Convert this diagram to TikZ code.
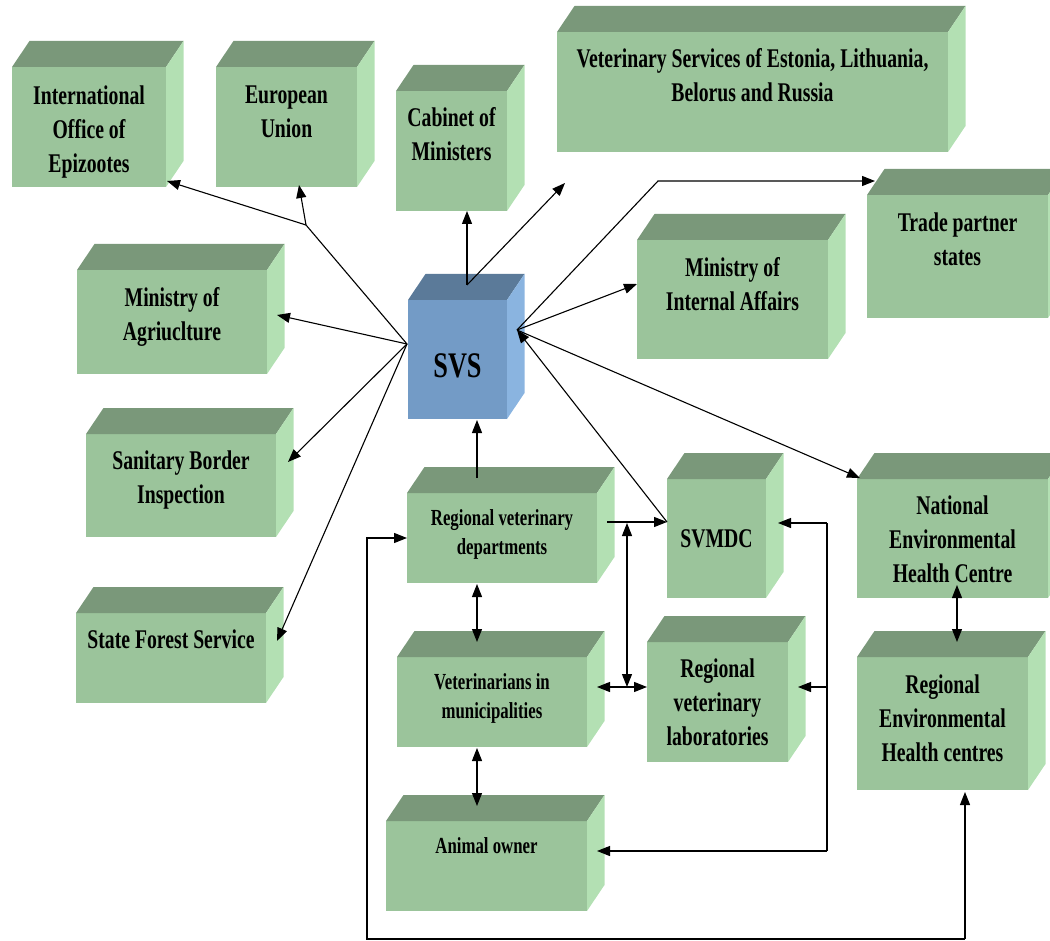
\documentclass[tikz,border=0pt]{standalone}
\usepackage{fontspec}
\setmainfont{Liberation Serif}[FakeStretch=0.73]
\usetikzlibrary{arrows.meta,calc,fit}
\definecolor{gfront}{HTML}{9BC49B}
\definecolor{gtop}{HTML}{7A987A}
\definecolor{gside}{HTML}{B3E0B3}
\definecolor{bfront}{HTML}{739BC6}
\definecolor{btop}{HTML}{5B7A99}
\definecolor{bside}{HTML}{8AB4E0}
\newcommand\cubebox[6]{%
  \node[fit={(#2,#3)(#4,#5)}, inner sep=0pt, outer sep=0pt, fill=#6front] (#1) {};
  \fill[#6top] (#1.north west) -- ++(17.5,-26) -- ($(#1.north east)+(17.5,-26)$) -- (#1.north east) -- cycle;
  \fill[#6side] (#1.north east) -- ++(17.5,-26) -- ($(#1.south east)+(17.5,-26)$) -- (#1.south east) -- cycle;
}
\tikzset{
  bigtxt/.style={font=\bfseries\fontsize{27}{34}\selectfont, align=center, inner sep=0pt, anchor=north},
  smalltxt/.style={font=\bfseries\fontsize{23}{29}\selectfont, align=center, inner sep=0pt, anchor=north},
  conn/.style={line width=1.1pt},
  arr/.style={conn, -{Triangle[length=13pt,width=10pt]}},
  dbl/.style={conn, {Triangle[length=13pt,width=10pt]}-{Triangle[length=13pt,width=10pt]}}
}
\begin{document}
\begin{tikzpicture}[x=1pt,y=-1pt]
\clip (0,0) rectangle (1050,941);
% boxes
\cubebox{ioe}{12}{67}{166}{187}{g}
\cubebox{eu}{216}{67}{357}{187}{g}
\cubebox{cab}{396}{91}{507}{211}{g}
\cubebox{vs}{557}{32}{948}{152}{g}
\cubebox{trade}{867}{195}{1048}{318}{g}
\cubebox{mia}{637}{240}{828}{359}{g}
\cubebox{agr}{77}{270}{267}{374}{g}
\cubebox{san}{86}{434}{276}{537}{g}
\cubebox{sfs}{76}{613}{266}{703}{g}
\cubebox{svs}{408}{300}{507}{419}{b}
\cubebox{rvd}{407}{493}{597}{583}{g}
\cubebox{vm}{397}{657}{587}{747}{g}
\cubebox{ao}{386}{821}{587}{911}{g}
\cubebox{svmdc}{667}{479}{766}{598}{g}
\cubebox{rvl}{647}{642}{788}{762}{g}
\cubebox{nat}{857}{479}{1048}{598}{g}
\cubebox{rehc}{857}{657}{1028}{790}{g}
% texts
\node[bigtxt] (ioe-t) at ($(ioe.north)+(0,18.5)$) {International\\Office of\\Epizootes};
\node[bigtxt] (eu-t) at ($(eu.north)+(0,18.5)$) {European\\Union};
\node[bigtxt] (cab-t) at ($(cab.north)+(0,16)$) {Cabinet of\\Ministers};
\node[bigtxt] (vs-t) at ($(vs.north)+(0,16)$) {Veterinary Services of Estonia, Lithuania,\\Belorus and Russia};
\node[bigtxt] (trade-t) at ($(trade.north)+(0,18)$) {Trade partner\\states};
\node[bigtxt] (mia-t) at ($(mia.north)+(0,17)$) {Ministry of\\Internal Affairs};
\node[bigtxt] (agr-t) at ($(agr.north)+(0,17)$) {Ministry of\\Agriuclture};
\node[bigtxt] (san-t) at ($(san.north)+(0,17)$) {Sanitary Border\\Inspection};
\node[bigtxt] (sfs-t) at ($(sfs.north)+(0,17)$) {State Forest Service};
\node[font=\bfseries\fontsize{36}{40}\selectfont, inner sep=0pt] (svs-t) at ($(svs.center)+(0,6)$) {SVS};
\node[smalltxt] (rvd-t) at ($(rvd.north)+(0,16)$) {Regional veterinary\\departments};
\node[smalltxt] (vm-t) at ($(vm.north)+(0,16)$) {Veterinarians in\\municipalities};
\node[smalltxt] (ao-t) at ($(ao.north)+(0,16)$) {Animal owner};
\node[font=\bfseries\fontsize{27}{34}\selectfont, inner sep=0pt] (svmdc-t) at (svmdc.center) {SVMDC};
\node[bigtxt] (rvl-t) at ($(rvl.north)+(0,16.5)$) {Regional\\veterinary\\laboratories};
\node[bigtxt] (nat-t) at ($(nat.north)+(0,16.5)$) {National\\Environmental\\Health Centre};
\node[bigtxt] (rehc-t) at ($(rehc.north)+(0,17.5)$) {Regional\\Environmental\\Health centres};
% connector points
\coordinate (svsL) at (407,344);
\coordinate (svsR) at (517,330);
\coordinate (svsT) at (467,285);
\coordinate (br) at (306,225);
\coordinate (vsend) at (565,183);
\coordinate (tpk) at (658,181);
\coordinate (jt) at (627,523);
\coordinate (jb) at (627,687);
\coordinate (busT) at (827,523);
\coordinate (busM) at (827,687);
\coordinate (busB) at (827,851);
\coordinate (lpR) at (965,939);
\coordinate (lpL) at (367,939);
% connectors around SVS
\draw[conn] (svsL) -- (br);
\draw[arr] (br) -- ($(ioe.south east)+(1,-6)$);
\draw[arr] (br) -- ($(eu.south west)+(83,-2)$);
\draw[arr] (svsL) -- ($(agr.east)+(10,-7)$);
\draw[arr] (svsL) -- ($(san.east)+(12,-23.5)$);
\draw[arr] (svsL) -- ($(sfs.east)+(11,-17)$);
\draw[arr] (svsT) -- (cab.south -| svsT);
\draw[arr] (svsT) -- (vsend);
\draw[arr] (svsR) -- (tpk) -- ($(trade.north west)+(8,-14)$);
\draw[arr] (svsR) -- ($(mia.north west)+(0,44)$);
\draw[arr] (svsR) -- ($(nat.north west)+(3,-1)$);
\draw[arr] ($(svmdc.west)+(0,-16.5)$) -- (svsR);
\draw[arr] ($(rvd.north)+(-25,-15)$) -- ($(svs.south)+(19.5,1)$);
% lower cluster
\draw[arr] ($(rvd.east)+(10,-16)$) -- ($(svmdc.west)+(0,-16.5)$);
\draw[dbl] (jt) -- (jb);
\draw[dbl] ($(vm.east)+(10,-15)$) -- ($(rvl.west)+(0,-15)$);
\draw[dbl] ($(rvd.south)+(-25,1)$) -- ($(vm.north)+(-15,-15)$);
\draw[dbl] ($(vm.south)+(-15,1)$) -- ($(ao.north)+(-9.5,-15)$);
\draw[conn] (busT) -- (busB);
\draw[arr] (busT) -- ($(svmdc.east)+(12,-15.5)$);
\draw[arr] (busM) -- ($(rvl.east)+(10,-15)$);
\draw[arr] (busB) -- ($(ao.east)+(10,-15)$);
\draw[arr] (lpR) -- ($(rehc.south)+(22.5,2)$);
\draw[arr] (lpR) -- (lpL) |- (rvd.west);
\draw[dbl] ($(nat.south)+(4.5,-13)$) -- ($(rehc.north)+(14.5,-15)$);
\end{tikzpicture}
\end{document}
